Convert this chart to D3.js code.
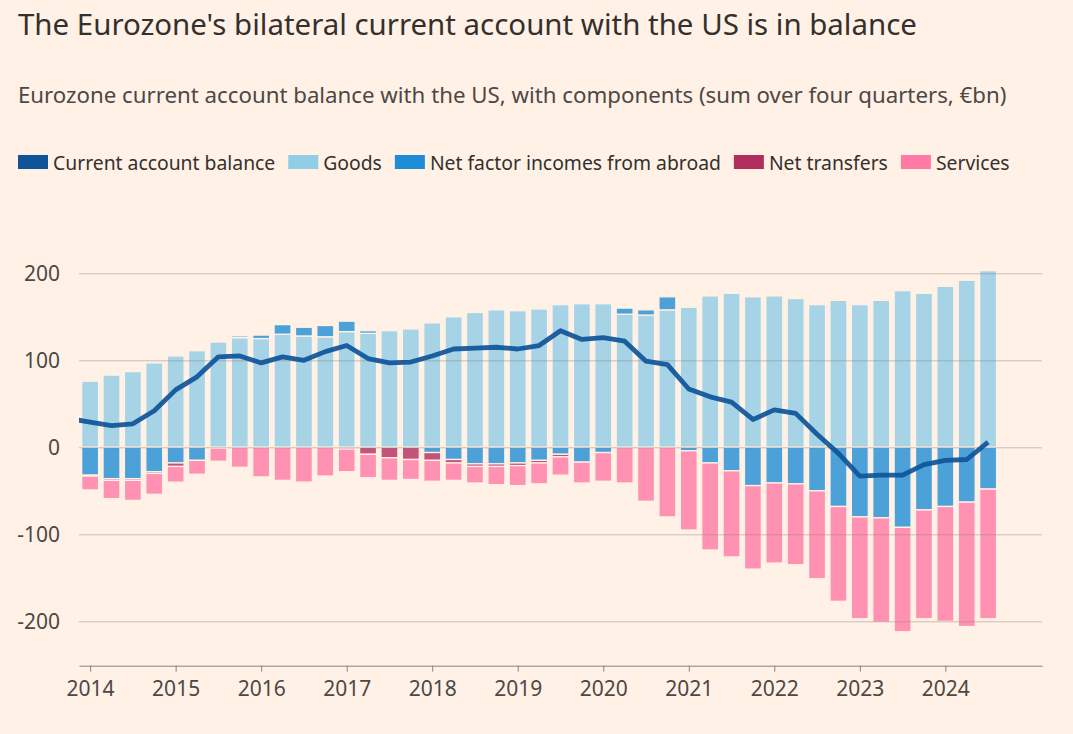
<!DOCTYPE html>
<html>
<head>
<meta charset="utf-8">
<script src="https://cdn.jsdelivr.net/npm/d3@7"></script>
<style>
  body { margin: 0; background: #fff1e5; }
  svg { display: block; }
  text { font-family: "Noto Sans", sans-serif; }
</style>
</head>
<body>
<div id="chart"></div>
<script>
// Kvartaler 2014K1 - 2024K3
const quarters = [
  "2014Q1","2014Q2","2014Q3","2014Q4","2015Q1","2015Q2","2015Q3","2015Q4",
  "2016Q1","2016Q2","2016Q3","2016Q4","2017Q1","2017Q2","2017Q3","2017Q4",
  "2018Q1","2018Q2","2018Q3","2018Q4","2019Q1","2019Q2","2019Q3","2019Q4",
  "2020Q1","2020Q2","2020Q3","2020Q4","2021Q1","2021Q2","2021Q3","2021Q4",
  "2022Q1","2022Q2","2022Q3","2022Q4","2023Q1","2023Q2","2023Q3","2023Q4",
  "2024Q1","2024Q2","2024Q3"
];

// Komponenter (€bn, sum over fire kvartaler)
const goods = [
  76, 83, 87, 97, 105, 111, 121, 126,
  125, 130, 128, 127, 133, 131, 134, 136,
  143, 150, 155, 158, 157, 159, 164, 165,
  165, 153, 152, 158, 161, 174, 177, 173,
  174, 171, 164, 169, 164, 169, 180, 177,
  185, 192, 203
];
const netFactor = [
  -32, -36, -36, -28, -18, -15, -1, 2,
  4, 11, 10, 13, 12, 3, 0, 0,
  -6, -14, -19, -19, -18, -15, -8, -17,
  -6, 7, 6, 15, -4, -18, -27, -44,
  -41, -42, -50, -68, -80, -81, -92, -72,
  -68, -63, -48
];
const transfers = [
  -1, -2, -2, -2, -4, 0, 0, 0,
  0, 0, 0, 0, -2, -8, -12, -14,
  -9, -4, -3, -3, -3, -3, -3, 0,
  0, 0, 0, 0, 0, 0, 0, 0,
  0, 0, 0, 0, 0, 0, 0, 0,
  0, 0, 0
];
const services = [
  -16, -21, -23, -24, -18, -16, -15, -23,
  -34, -38, -40, -33, -26, -27, -26, -23,
  -24, -20, -19, -21, -23, -24, -21, -24,
  -33, -41, -62, -80, -91, -100, -99, -96,
  -92, -93, -101, -109, -117, -120, -120, -125,
  -132, -143, -149
];
const currentAccount = [
  29, 25, 27, 42, 66, 81, 104, 105,
  97, 104, 100, 110, 117, 102, 97, 98,
  105, 113, 114, 115, 113, 117, 134, 124,
  126, 122, 99, 95, 67, 58, 52, 32,
  43, 39, 15, -7, -33, -32, -32, -20,
  -15, -14, 6
];
// Kvartalet før (2013K4), bare linjen, klippes ved venstre kant
const balancePrev = { t: 2013.75, balance: 33 };

const yTicks = [-200, -100, 0, 100, 200];
const yearTicks = [2014, 2015, 2016, 2017, 2018, 2019, 2020, 2021, 2022, 2023, 2024];

const keys = ["goods", "netFactor", "transfers", "services"];
const colors = {
  balance: "#0f5499",
  goods: "#90cde6",
  netFactor: "#1f8dd6",
  transfers: "#b12d5d",
  services: "#ff7aa5"
};
const legendItems = [
  { label: "Current account balance", color: colors.balance },
  { label: "Goods", color: colors.goods },
  { label: "Net factor incomes from abroad", color: colors.netFactor },
  { label: "Net transfers", color: colors.transfers },
  { label: "Services", color: colors.services }
];

const W = 1073, H = 734;
const bg = "#fff1e5";

const svg = d3.select("#chart").append("svg")
  .attr("width", W)
  .attr("height", H);

svg.append("rect").attr("width", W).attr("height", H).attr("fill", bg);

// Tilpass skriftstørrelse til ønsket bredde
function fitWidth(sel, target) {
  const fs = parseFloat(sel.attr("font-size"));
  const w = sel.node().getComputedTextLength();
  sel.attr("font-size", fs * target / w);
}

const title = svg.append("text")
  .attr("x", 18).attr("y", 35)
  .attr("font-size", 28)
  .attr("fill", "#33302e")
  .text("The Eurozone's bilateral current account with the US is in balance");
fitWidth(title, 899);

const subtitle = svg.append("text")
  .attr("x", 18).attr("y", 103)
  .attr("font-size", 20)
  .attr("fill", "#4d4845")
  .text("Eurozone current account balance with the US, with components (sum over four quarters, €bn)");
fitWidth(subtitle, 989);

// Legende
const legend = svg.append("g").attr("transform", "translate(18,155)");
const legendTexts = [];
legendItems.forEach(item => {
  const t = legend.append("text")
    .attr("font-size", 19)
    .attr("fill", "#33302e")
    .attr("y", 15)
    .text(item.label);
  legendTexts.push(t);
});
// skaler så total bredde passer
const swatchW = 30, swatchGap = 5, itemGap = 13;
let natural = d3.sum(legendTexts, t => t.node().getComputedTextLength());
const fixed = legendItems.length * (swatchW + swatchGap) + (legendItems.length - 1) * itemGap;
const scaleF = (992 - fixed) / natural;
let lx = 0;
legendItems.forEach((item, i) => {
  legend.append("rect")
    .attr("x", lx).attr("y", 0)
    .attr("width", swatchW).attr("height", 14)
    .attr("fill", item.color);
  const t = legendTexts[i];
  t.attr("font-size", 19 * scaleF).attr("x", lx + swatchW + swatchGap);
  lx += swatchW + swatchGap + t.node().getComputedTextLength() + itemGap;
});

// Skalaer
const x = d3.scaleLinear().domain([2013.87, 2025.13]).range([79, 1042]);
const y = d3.scaleLinear().domain([-251, 200]).range([665.7, 273.3]);

const rows = quarters.map((q, i) => ({
  t: +q.slice(0, 4) + (+q.slice(5) - 1) / 4,
  goods: goods[i],
  netFactor: netFactor[i],
  transfers: transfers[i],
  services: services[i],
  balance: currentAccount[i]
}));

const series = d3.stack()
  .keys(keys)
  .offset(d3.stackOffsetDiverging)(rows);

const bw = x(2014.198) - x(2014);

svg.append("clipPath").attr("id", "plotClip")
  .append("rect")
  .attr("x", 79).attr("y", 200)
  .attr("width", 1042 - 79).attr("height", 480);

const barsG = svg.append("g");
series.forEach(s => {
  barsG.append("g")
    .attr("fill", colors[s.key])
    .attr("fill-opacity", 0.8)
    .selectAll("rect")
    .data(s.filter(d => d[1] !== d[0]))
    .join("rect")
    .attr("x", d => x(d.data.t) - bw / 2)
    .attr("y", d => y(Math.max(d[0], d[1])))
    .attr("width", bw)
    .attr("height", d => Math.abs(y(d[0]) - y(d[1])))
    .attr("stroke", bg)
    .attr("stroke-width", 1.3);
});

// Y-akse med rutenett over søylene
const yAxis = svg.append("g")
  .attr("transform", "translate(79,0)")
  .call(d3.axisLeft(y)
    .tickValues(yTicks)
    .tickSizeInner(-(1042 - 79))
    .tickSizeOuter(0)
    .tickPadding(19)
    .tickFormat(d => String(d)));
yAxis.select(".domain").remove();
yAxis.selectAll(".tick line")
  .attr("stroke", "#8f8178")
  .attr("stroke-opacity", 0.45);
yAxis.selectAll(".tick text")
  .attr("font-size", 21)
  .attr("fill", "#4d4845")
  .attr("font-family", "\"Noto Sans\", sans-serif");

// X-akse
const xAxis = svg.append("g")
  .attr("transform", "translate(0,665.7)")
  .call(d3.axisBottom(x)
    .tickValues(yearTicks)
    .tickSizeInner(6)
    .tickSizeOuter(0)
    .tickPadding(9)
    .tickFormat(d => String(d)));
xAxis.select(".domain").attr("stroke", "#8c8179");
xAxis.selectAll(".tick line").attr("stroke", "#8c8179");
xAxis.selectAll(".tick text")
  .attr("font-size", 21)
  .attr("fill", "#4d4845")
  .attr("font-family", "\"Noto Sans\", sans-serif");

// Driftsbalansen som linje
const line = d3.line()
  .x(d => x(d.t))
  .y(d => y(d.balance));

svg.append("path")
  .datum([balancePrev].concat(rows))
  .attr("clip-path", "url(#plotClip)")
  .attr("fill", "none")
  .attr("stroke", colors.balance)
  .attr("stroke-opacity", 0.92)
  .attr("stroke-width", 4.8)
  .attr("stroke-linejoin", "round")
  .attr("stroke-linecap", "butt")
  .attr("d", line);
</script>
</body>
</html>
